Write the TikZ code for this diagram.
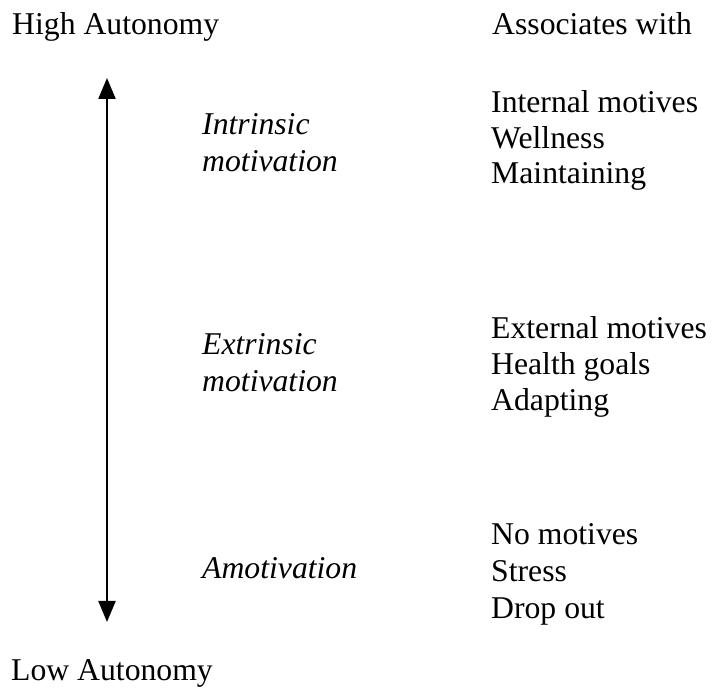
\documentclass[tikz,border=0pt]{standalone}
\usepackage{fontspec}
\setmainfont{Liberation Serif}
\usetikzlibrary{arrows.meta}
\begin{document}
\begin{tikzpicture}[x=1pt, y=1pt, font=\fontsize{31.7}{36}\selectfont, >={Triangle[width=17pt,length=21pt]},
  lbl/.style={anchor=base west, inner sep=0pt},
  lvl/.style={lbl, font=\fontsize{31.7}{36}\selectfont\itshape}]
			\useasboundingbox (0,0) rectangle (712,688);
			\path
			(12,653) node[lbl] (high) {High Autonomy}
			(492,653) node[lbl] (assoc) {Associates with}
			(11,8) node[lbl] (low) {Low Autonomy}

			(202,553) node[lvl] (intr1) {Intrinsic}
			(202,516.5) node[lvl] (intr2) {motivation}
			(202,333) node[lvl] (extr1) {Extrinsic}
			(202,296.5) node[lvl] (extr2) {motivation}
			(202,109.5) node[lvl] (amot) {Amotivation}

			(491,575.3) node[lbl] (intrA1) {Internal motives}
			(491,539.7) node[lbl] (intrA2) {Wellness}
			(491,504) node[lbl] (intrA3) {Maintaining}
			(491,349) node[lbl] (extrA1) {External motives}
			(491,313) node[lbl] (extrA2) {Health goals}
			(491,277) node[lbl] (extrA3) {Adapting}
			(491,143) node[lbl] (amotA1) {No motives}
			(491,106) node[lbl] (amotA2) {Stress}
			(491,69) node[lbl] (amotA3) {Drop out};

			\coordinate (top) at (107,610);
			\coordinate (bot) at (107,66);
			\draw[<->, line width=2.2pt] (bot)--(top);
		\end{tikzpicture}
\end{document}
